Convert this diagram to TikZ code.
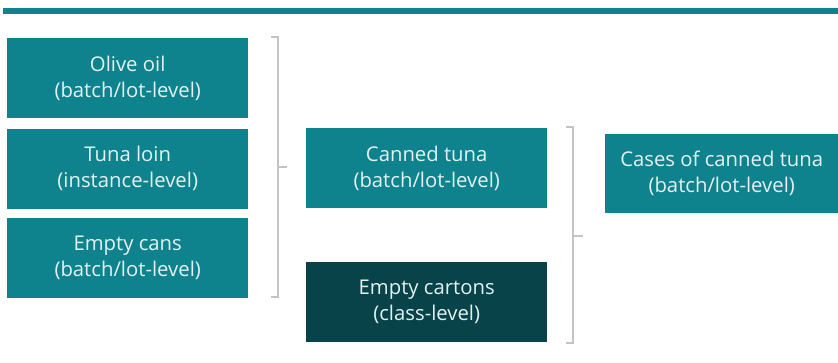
\documentclass[tikz,border=0pt]{standalone}
\usepackage{fontspec}
\setmainfont{Open Sans}
\usetikzlibrary{positioning}
\definecolor{tealbox}{HTML}{0F838D}
\definecolor{darkbox}{HTML}{074349}
\definecolor{boxtext}{HTML}{E4F1F2}
\definecolor{brace}{HTML}{C4C4C4}

\begin{document}
\begin{tikzpicture}[x=1pt, y=-1pt, node distance=10pt,
    item/.style={fill=tealbox, text=boxtext, align=center, inner sep=0pt,
                 minimum width=241pt, minimum height=80pt, font=\fontsize{20.3}{26}\selectfont},
    darkitem/.style={item, fill=darkbox},
    bracket/.style={draw=brace, line width=2.2pt}]
        \useasboundingbox (0,0) rectangle (838,362);
        % Top rule
        \fill[tealbox] (3,8) rectangle (838,14);

        % Draw the blocks
        \node (oil)     [item, anchor=north west] at (7,38) {Olive oil\\(batch/lot-level)};
        \node (loin)    [item, below=10pt of oil] {Tuna loin\\(instance-level)};
        \node (cans)    [item, below=9pt of loin] {Empty cans\\(batch/lot-level)};
        \node (canned)  [item, anchor=north west] at (306,128) {Canned tuna\\(batch/lot-level)};
        \node (cartons) [darkitem, anchor=north west] at (306,262) {Empty cartons\\(class-level)};
        \node (cases)   [item, anchor=north west, minimum width=233pt, minimum height=79pt] at (605,134) {Cases of canned tuna\\(batch/lot-level)};

        % Draw the brackets
        \coordinate (b1top) at (278,37);
        \coordinate (b1bot) at (278,297);
        \coordinate (b1mid) at (278,167);
        \draw [bracket] ([xshift=-7pt]b1top) -- (b1top) -- (b1bot) -- ([xshift=-7pt]b1bot);
        \draw [bracket] (b1mid) -- ([xshift=9pt]b1mid);

        \coordinate (b2top) at (573,127);
        \coordinate (b2bot) at (573,343);
        \coordinate (b2mid) at (573,236);
        \draw [bracket] ([xshift=-7pt]b2top) -- (b2top) -- (b2bot) -- ([xshift=-7pt]b2bot);
        \draw [bracket] (b2mid) -- ([xshift=10pt]b2mid);
    \end{tikzpicture}
\end{document}
